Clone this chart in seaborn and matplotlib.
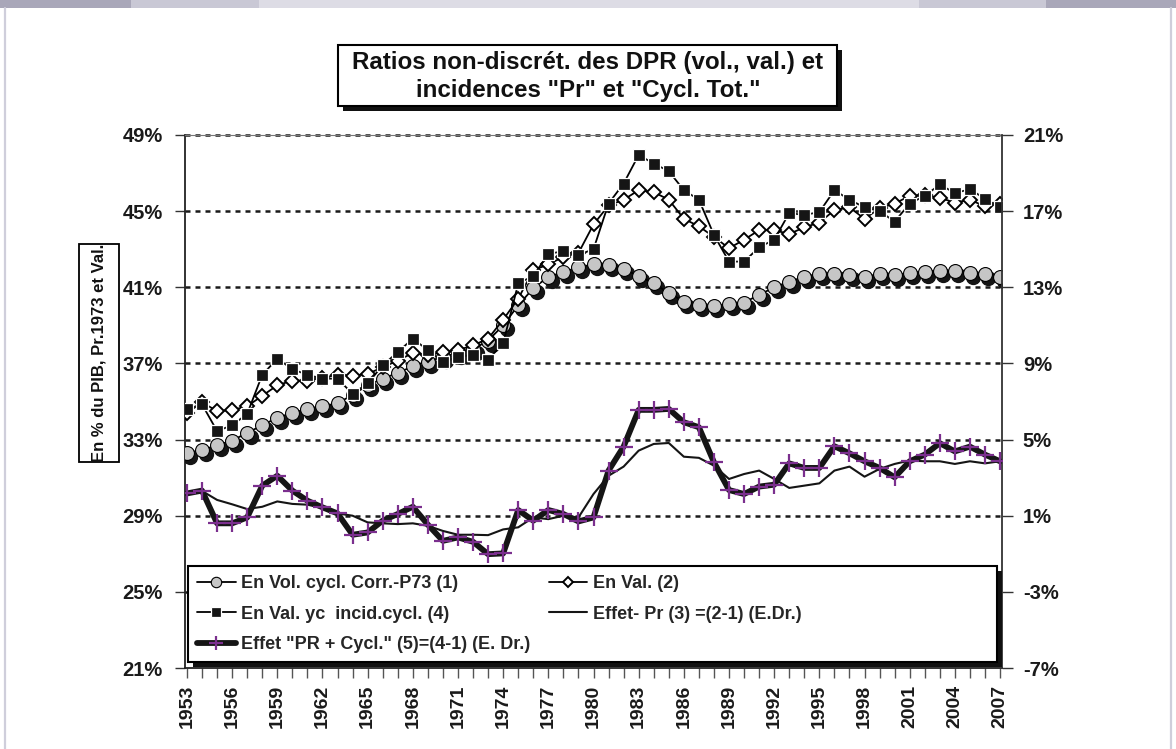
import numpy as np
import pandas as pd
import matplotlib
matplotlib.use("Agg")
import matplotlib.pyplot as plt
from matplotlib.patches import Rectangle
from matplotlib.lines import Line2D
from matplotlib.transforms import offset_copy
import seaborn as sns

# ---- data -----------------------------------------------------------------
years = list(range(1953, 2008))

# (1) volume ratio, cyclically corrected, 1973 prices (left axis, %)
vol_cycl = [32.3, 32.45, 32.7, 32.95, 33.35, 33.75, 34.15, 34.4, 34.6, 34.75,
            34.9, 35.35, 35.85, 36.2, 36.5, 36.85, 37.1, 37.35, 37.55, 37.75,
            38.2, 39.0, 40.05, 40.95, 41.55, 41.8, 42.05, 42.2, 42.15, 41.95,
            41.6, 41.2, 40.7, 40.25, 40.05, 40.0, 40.1, 40.2, 40.6, 41.0,
            41.3, 41.55, 41.7, 41.7, 41.65, 41.55, 41.7, 41.65, 41.75, 41.8,
            41.85, 41.85, 41.75, 41.7, 41.55]

# (2) value ratio (left axis, %)
val = [34.4, 34.95, 34.5, 34.55, 34.75, 35.3, 35.85, 36.1, 36.1, 36.25,
       36.4, 36.35, 36.45, 36.8, 37.15, 37.55, 37.45, 37.6, 37.7, 37.95,
       38.3, 39.3, 40.4, 41.9, 42.2, 42.6, 42.8, 44.3, 45.3, 45.6,
       46.1, 46.0, 45.6, 44.6, 44.2, 43.65, 43.05, 43.5, 44.0, 44.0,
       43.8, 44.15, 44.4, 45.05, 45.2, 44.6, 45.15, 45.4, 45.8, 45.85,
       45.7, 45.45, 45.6, 45.25, 45.4]

# (4) value ratio including cyclical incidence (left axis, %)
val_incid = [34.6, 34.85, 33.45, 33.75, 34.35, 36.4, 37.25, 36.7, 36.4, 36.2,
             36.2, 35.4, 35.95, 36.9, 37.6, 38.3, 37.7, 37.05, 37.35, 37.45,
             37.2, 38.05, 41.2, 41.6, 42.75, 42.9, 42.7, 43.0, 45.4, 46.45,
             47.95, 47.5, 47.1, 46.1, 45.6, 43.75, 42.35, 42.35, 43.1, 43.5,
             44.9, 44.8, 44.95, 46.1, 45.6, 45.2, 45.0, 44.45, 45.4, 45.8,
             46.4, 45.95, 46.15, 45.65, 45.2]

# (3) price effect (right axis, %)
effet_pr = [2.2, 2.3, 1.83, 1.6, 1.35, 1.47, 1.75, 1.62, 1.58, 1.4,
            1.12, 1.0, 0.65, 0.6, 0.56, 0.6, 0.47, 0.2, 0.0, 0.0,
            -0.02, 0.28, 0.39, 0.91, 0.82, 1.0, 0.91, 2.14, 3.1, 3.58,
            4.42, 4.77, 4.82, 4.1, 4.04, 3.63, 2.93, 3.19, 3.37, 2.93,
            2.46, 2.58, 2.7, 3.37, 3.58, 3.05, 3.46, 3.72, 3.9, 3.86,
            3.86, 3.72, 3.86, 3.75, 3.86]

# (5) price + cyclical effect (right axis, %)
effet_pr_cycl = [2.17, 2.32, 0.6, 0.6, 0.91, 2.58, 3.1, 2.32, 1.79, 1.44,
                 1.12, 0.0, 0.12, 0.74, 1.09, 1.47, 0.53, -0.32, -0.14, -0.37,
                 -1.02, -0.98, 1.3, 0.74, 1.3, 1.09, 0.7, 0.91, 3.37, 4.63,
                 6.56, 6.56, 6.61, 5.91, 5.65, 3.81, 2.35, 2.14, 2.53, 2.63,
                 3.75, 3.51, 3.51, 4.65, 4.28, 3.86, 3.51, 3.02, 3.86, 4.21,
                 4.81, 4.38, 4.63, 4.21, 3.86]

left_ticks = [21, 25, 29, 33, 37, 41, 45, 49]
right_ticks = [-7, -3, 1, 5, 9, 13, 17, 21]
year_labels = list(range(1953, 2008, 3))

labels = {
    "vol": "En Vol. cycl. Corr.-P73 (1)",
    "val": "En Val. (2)",
    "incid": "En Val. yc  incid.cycl. (4)",
    "pr": "Effet- Pr (3) =(2-1) (E.Dr.)",
    "prc": "Effet \"PR + Cycl.\" (5)=(4-1) (E. Dr.)",
}

df = pd.DataFrame({"year": years, "vol": vol_cycl, "val": val,
                   "incid": val_incid, "pr": effet_pr, "prc": effet_pr_cycl})

# ---- style ----------------------------------------------------------------
sns.set_theme(style="white")
plt.rcParams["font.family"] = ["Liberation Sans", "DejaVu Sans"]
plt.rcParams["font.weight"] = "bold"

W, H = 1176, 749
fig = plt.figure(figsize=(W / 100, H / 100), dpi=100)
fig.patch.set_facecolor("white")


def fx(px):
    return px / W


def fy(py):
    return 1 - py / H


# page decoration: top band and side rules
band = [(0, 131, "#a9a7b9"), (131, 259, "#c9c8d5"), (259, 919, "#dddce5"),
        (919, 1046, "#c9c8d5"), (1046, 1176, "#a9a7b9")]
for x0, x1, c in band:
    fig.add_artist(Rectangle((fx(x0), fy(8)), fx(x1 - x0), 8 / H,
                             transform=fig.transFigure, fc=c, ec="none"))
for xv in (5, 1171):
    fig.add_artist(Line2D([fx(xv), fx(xv)], [0, fy(8)], transform=fig.transFigure,
                          color="#cfcedb", lw=1.6))

ax = fig.add_axes([fx(185), fy(668), fx(817), 533 / H])
ax2 = ax.twinx()

# gridlines (left scale)
for v in left_ticks[1:]:
    ax.axhline(v, color="#1a1a1a", lw=1.8, ls=(0, (2, 2)), zorder=1, clip_on=False)

# (1) circles with a dark drop shadow
shadow_tr = offset_copy(ax.transData, fig=fig, x=3.5, y=-4, units="dots")
ax.plot(df["year"], df["vol"], ls="none", marker="o", ms=10, mfc="#151515",
        mec="#151515", transform=shadow_tr, zorder=3)
sns.lineplot(data=df, x="year", y="vol", ax=ax, color="black", lw=1.3,
             marker="o", ms=10, mfc="#c6c6c6", mec="black", mew=0.8,
             label=labels["vol"], zorder=4)

# (2) open diamonds
sns.lineplot(data=df, x="year", y="val", ax=ax, color="black", lw=1.3,
             marker="D", ms=6.8, mfc="white", mec="black", mew=1.4,
             label=labels["val"], zorder=5)

# (4) filled squares
sns.lineplot(data=df, x="year", y="incid", ax=ax, color="black", lw=1.3,
             marker="s", ms=9.2, mfc="#151515", mec="white", mew=0.9,
             label=labels["incid"], zorder=6)

# (3) and (5) on the right scale
sns.lineplot(data=df, x="year", y="pr", ax=ax2, color="#151515", lw=1.5,
             label=labels["pr"], zorder=3)
sns.lineplot(data=df, x="year", y="prc", ax=ax2, color="#151515", lw=4.2,
             marker="+", ms=13, mec="#7b2f8e", mew=1.6,
             label=labels["prc"], zorder=4)

for a in (ax, ax2):
    leg = a.get_legend()
    if leg is not None:
        leg.remove()
    a.set_xlabel("")
    a.set_ylabel("")

# axes scales and ticks
ax.set_xlim(1952.87, 2007.13)
ax.set_ylim(21, 49)
ax2.set_ylim(-7, 21)
ax.set_xticks(years)
ax.set_xticklabels([str(y) if y in year_labels else "" for y in years])
ax.tick_params(axis="x", bottom=True, length=7, width=1, color="#555555",
               labelrotation=90, labelsize=14, pad=5)
ax.set_yticks(left_ticks)
ax.set_yticklabels([f"{v}%" for v in left_ticks])
ax.tick_params(axis="y", left=True, length=7, width=1, color="#333333",
               labelsize=14.5, pad=9)
ax2.set_yticks(right_ticks)
ax2.set_yticklabels([f"{v}%" for v in right_ticks])
ax2.tick_params(axis="y", right=True, length=8, width=1, color="#333333",
                labelsize=14.5, pad=7)
for lab in ax.get_xticklabels() + ax.get_yticklabels() + ax2.get_yticklabels():
    lab.set_fontweight("bold")
    lab.set_color("#1a1a1a")

for a in (ax, ax2):
    for s in a.spines.values():
        s.set_visible(False)
ax.spines["left"].set_visible(True)
ax.spines["left"].set_color("#222222")
ax.spines["left"].set_linewidth(1.3)
ax.spines["bottom"].set_visible(True)
ax.spines["bottom"].set_color("#222222")
ax.spines["bottom"].set_linewidth(1.3)
ax.spines["top"].set_visible(True)
ax.spines["top"].set_color("#777777")
ax.spines["top"].set_linewidth(0.8)
ax2.spines["right"].set_visible(True)
ax2.spines["right"].set_color("#333333")
ax2.spines["right"].set_linewidth(1.3)

# legend box with black drop shadow
bx0, bx1, by0, by1 = 188, 997, 566, 662
off = 5
ax2.add_patch(Rectangle(((bx0 + off - 185) / 817, (668 - by1 - off) / 533),
                        (bx1 - bx0) / 817, (by1 - by0) / 533,
                        transform=ax2.transAxes, fc="#111111", ec="none",
                        zorder=9, clip_on=False))
ax2.add_patch(Rectangle(((bx0 - 185) / 817, (668 - by1) / 533),
                        (bx1 - bx0) / 817, (by1 - by0) / 533,
                        transform=ax2.transAxes, fc="white", ec="black", lw=1.5,
                        zorder=10, clip_on=False))

h1, l1 = ax.get_legend_handles_labels()
h2, l2 = ax2.get_legend_handles_labels()
hmap = dict(zip(l1 + l2, h1 + h2))
order = ["vol", "incid", "prc", "val", "pr"]
leg = ax2.legend([hmap[labels[k]] for k in order], [labels[k] for k in order],
                 loc="upper left",
                 bbox_to_anchor=((197 - 185) / 817, (668 - 575) / 533),
                 ncol=2, frameon=False, borderpad=0, borderaxespad=0,
                 handlelength=2.15, handletextpad=0.3, columnspacing=1.0,
                 labelspacing=0.75, markerscale=0.75,
                 prop={"size": 13, "weight": "bold"})
leg.set_zorder(11)

# title box with shadow
tx0, tx1, ty0, ty1 = 338, 837, 45, 106
fig.add_artist(Rectangle((fx(tx0 + 5), fy(ty1 + 5)), fx(tx1 - tx0), (ty1 - ty0) / H,
                         transform=fig.transFigure, fc="#111111", ec="none"))
fig.add_artist(Rectangle((fx(tx0), fy(ty1)), fx(tx1 - tx0), (ty1 - ty0) / H,
                         transform=fig.transFigure, fc="white", ec="black", lw=1.5))
fig.text(fx(588), fy(62), "Ratios non-discrét. des DPR (vol., val.) et",
         ha="center", va="center", fontsize=17.4, weight="bold", color="#111111")
fig.text(fx(588), fy(91), "incidences \"Pr\" et \"Cycl. Tot.\"",
         ha="center", va="center", fontsize=17.4, weight="bold", color="#111111")

# left axis caption in a box
fig.add_artist(Rectangle((fx(79), fy(462)), fx(40), (462 - 244) / H,
                         transform=fig.transFigure, fc="white", ec="black", lw=1.3))
fig.text(fx(99.5), fy(353), "En % du PIB, Pr.1973 et Val.", rotation=90,
         ha="center", va="center", fontsize=12, weight="bold", color="#111111")

fig.savefig("out.png", dpi=100)
